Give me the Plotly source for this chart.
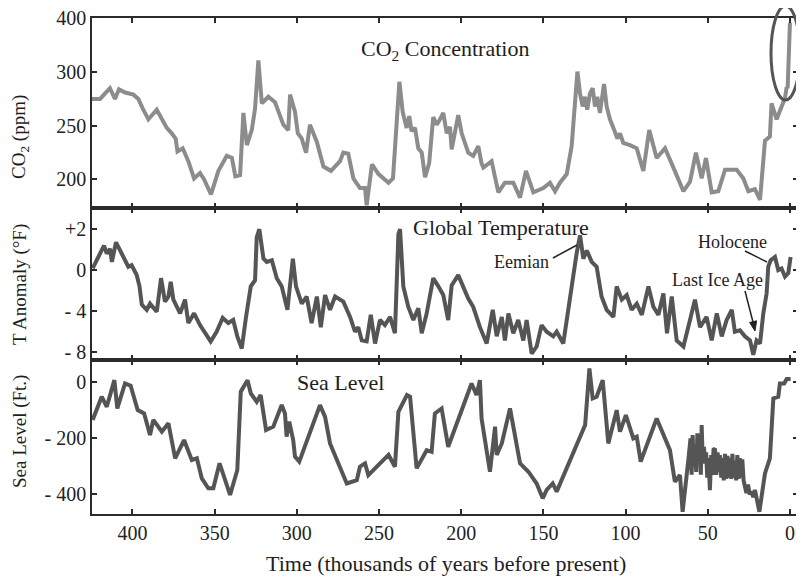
import plotly.graph_objects as go
from plotly.subplots import make_subplots

# ---------------- data (thousands of years before present) ----------------
co2_age = [424.6, 419.7, 413.7, 410.6, 408.2, 404.5, 399.4, 396.4, 393.7, 390.3, 385.2, 379.1,
           376.1, 373.7, 372.6, 369.4, 366.0, 362.5, 358.9, 356.4, 352.2, 347.7, 342.6, 339.5,
           337.4, 334.5, 332.5, 330.4, 327.4, 325.4, 323.4, 321.3, 317.3, 313.3, 308.2, 305.2,
           304.1, 301.1, 299.4, 297.0, 294.4, 292.0, 287.8, 283.8, 279.2, 273.7, 271.7, 268.7,
           265.6, 261.6, 258.5, 257.5, 254.3, 250.3, 244.2, 241.5, 237.6, 235.6, 233.2, 231.6,
           230.2, 228.1, 226.1, 224.0, 222.0, 219.5, 217.0, 214.9, 212.9, 210.9, 208.8, 206.8,
           205.8, 203.8, 201.8, 199.7, 195.7, 192.7, 189.6, 187.6, 186.5, 181.5, 177.4, 173.4,
           168.3, 164.2, 160.6, 156.1, 150.0, 146.0, 142.9, 139.9, 135.8, 132.8, 129.3, 127.7,
           126.1, 124.7, 123.3, 121.7, 120.0, 118.6, 117.2, 115.6, 113.1, 111.5, 109.5, 107.4,
           105.0, 103.4, 101.4, 97.3, 93.2, 89.2, 85.6, 81.1, 76.0, 70.9, 64.8, 60.8, 57.2, 53.7,
           51.1, 47.6, 43.6, 39.5, 32.4, 28.4, 25.3, 21.3, 18.2, 15.2, 12.2, 11.2, 8.1, 3.0, 2.0,
           1.4, 0.0]
co2_ppm = [275, 275, 285, 275, 284, 281, 279, 275, 266, 256, 265, 248,
           243, 238, 226, 229, 217, 201, 206, 200, 186, 208, 222, 220,
           203, 204, 262, 232, 246, 266, 322, 271, 277, 272, 251, 246,
           279, 263, 243, 238, 225, 251, 235, 212, 208, 217, 225, 224,
           201, 192, 192, 176, 214, 205, 197, 201, 291, 263, 248, 259,
           245, 248, 229, 225, 202, 215, 258, 251, 256, 262, 243, 249,
           228, 243, 260, 243, 225, 222, 231, 215, 211, 217, 188, 197,
           197, 183, 208, 188, 192, 197, 189, 197, 205, 231, 301, 280,
           268, 277, 265, 280, 285, 268, 277, 262, 289, 268, 256, 248,
           238, 243, 234, 232, 229, 208, 246, 220, 229, 211, 189, 198, 225, 201,
           220, 188, 189, 209, 209, 201, 189, 191, 181, 236, 240, 271, 256, 276, 286,
           285, 392]

temp_age = [424.2, 420.6, 417.3, 415.6, 413.6, 412.5, 410.0, 407.5, 404.5, 402.5, 400.5, 397.4,
            395.7, 394.3, 391.3, 389.3, 385.2, 382.6, 380.2, 378.1, 376.7, 375.1, 371.0, 368.0,
            366.0, 362.5, 358.9, 354.8, 352.4, 348.8, 345.1, 341.7, 338.7, 336.2, 333.5, 330.9,
            328.0, 325.4, 324.4, 322.8, 320.3, 318.3, 315.2, 312.2, 309.2, 305.7, 303.7, 302.4,
            300.5, 297.0, 294.0, 291.0, 287.8, 285.4, 282.8, 279.8, 276.7, 271.7, 267.6, 264.6,
            262.6, 260.5, 257.5, 255.0, 252.4, 249.4, 246.4, 243.3, 240.3, 238.2, 237.2, 235.2,
            232.2, 229.1, 226.1, 224.0, 221.0, 217.0, 213.9, 210.9, 207.9, 205.8, 201.8, 198.8,
            195.7, 192.7, 188.6, 184.5, 180.8, 178.4, 175.3, 173.4, 171.3, 168.3, 165.3, 162.2,
            160.2, 157.1, 154.1, 151.1, 148.0, 144.0, 141.9, 137.9, 134.9, 131.8, 129.8, 127.7,
            125.7, 123.6, 120.6, 117.6, 114.6, 111.5, 107.4, 105.4, 102.3, 99.3, 96.3, 93.2, 90.1,
            86.1, 83.1, 80.0, 77.0, 74.8, 71.9, 68.9, 64.8, 60.8, 57.8, 54.7, 50.7, 47.6, 44.5,
            41.5, 38.5, 35.4, 33.5, 30.4, 27.4, 24.3, 22.3, 20.3, 18.2, 16.2, 14.2, 13.2, 11.7,
            9.1, 7.1, 5.1, 3.0, 1.0, -0.4]
temp_f = [0.08, 0.64, 1.2, 0.8, 1.04, 0.4, 1.36, 0.96, 0.48, 0.16, 0.24, -0.49,
          -1.6, -3.4, -3.9, -3.3, -4.1, -0.8, -3.1, -2.6, -1.15, -2.9, -4.25, -2.9,
          -5.2, -4.25, -5.4, -6.4, -7.0, -6.05, -4.7, -5.2, -4.9, -6.5, -7.7, -4.6,
          -1.6, -1.0, 1.6, 2.0, 0.56, 0.4, 0.48, -0.8, -1.6, -3.9, -1.15, 0.56,
          -1.6, -3.3, -2.6, -5.2, -2.6, -5.6, -2.45, -3.9, -2.6, -3.1, -4.6, -6.05,
          -5.6, -6.9, -7.0, -4.4, -7.2, -4.9, -5.4, -4.6, -6.2, 1.76, 2.0, -1.6,
          -3.6, -4.9, -3.75, -6.2, -4.25, -0.8, -1.6, -2.45, -4.9, -1.5, -0.5, -1.6,
          -2.8, -3.6, -5.6, -7.2, -3.9, -6.5, -4.6, -6.9, -4.25, -6.2, -4.9, -6.9,
          -4.9, -8.2, -7.5, -5.4, -6.05, -6.5, -6.05, -7.2, -3.9, -0.3, 0.8, 1.7,
          0.56, 0.96, 0.4, 0.16, -2.6, -3.9, -4.6, -1.6, -2.9, -2.45, -3.9, -3.3, -4.4,
          -1.6, -3.6, -4.4, -2.3, -6.2, -2.6, -6.9, -7.5, -4.9, -2.9, -5.6, -4.6, -6.9, -4.25,
          -6.5, -4.9, -3.9, -6.05, -5.9, -6.5, -6.9, -8.3, -6.9, -7.2, -4.25, -2.3, 0.16, 0.48,
          0.64, 0.0, 0.08, -0.65, -0.3, 0.64]

sea_age = [424.2, 418.7, 415.6, 411.0, 409.2, 404.5, 401.1, 396.8, 392.9, 389.3, 387.3, 382.1,
           378.1, 374.0, 368.6, 363.9, 360.8, 357.8, 353.8, 350.8, 347.0, 340.6, 336.2, 334.1,
           330.0, 328.0, 324.4, 322.0, 318.7, 314.3, 309.2, 307.2, 306.2, 304.6, 302.2, 301.1,
           298.5, 285.9, 282.8, 279.8, 269.6, 263.5, 261.6, 258.5, 256.5, 244.2, 240.3, 238.2,
           233.0, 231.1, 227.1, 221.0, 218.0, 216.0, 211.9, 207.9, 193.7, 190.7, 188.6, 187.6,
           182.5, 179.4, 178.4, 175.3, 170.3, 164.2, 159.1, 154.1, 150.4, 148.0, 144.3, 141.9,
           124.6, 122.0, 120.0, 117.6, 113.9, 110.5, 105.4, 103.4, 99.8, 95.3, 93.2, 90.8, 81.1,
           73.0, 70.0, 66.9, 65.3, 62.9, 61.5, 60.5, 59.8, 59.2, 58.5, 57.8, 57.0, 56.3, 55.5,
           54.8, 54.2, 53.7, 53.0, 52.3, 51.7, 51.0, 50.3, 49.5, 48.7, 47.9, 47.2, 46.5, 45.6,
           44.8, 44.0, 43.3, 42.6, 41.8, 41.0, 40.3, 39.5, 38.7, 38.0, 37.2, 36.5, 35.7, 35.0,
           34.2, 33.5, 32.7, 32.0, 31.2, 30.5, 29.8, 29.0, 28.2, 27.4, 26.5, 25.5, 24.5, 23.3,
           22.3, 21.3, 20.0, 18.6, 15.2, 12.2, 10.1, 7.1, 6.1, 3.5, 2.0, -0.4]
sea_ft = [-134, -51, -87, 8, -93, -4, -12, -99, -111, -188, -134, -176,
          -146, -271, -206, -277, -271, -343, -378, -378, -289, -402, -313, -33,
          8, -39, -69, -45, -170, -158, -81, -111, -194, -140, -206, -265,
          -283, -81, -123, -218, -361, -349, -301, -289, -331, -259, -301, -105,
          -45, -51, -307, -242, -248, -111, -93, -230, -4, -45, 8, -129,
          -319, -158, -259, -218, -93, -289, -319, -361, -414, -384, -361, -390,
          -152, 50, -57, -51, 8, -218, -99, -176, -117, -200, -194, -283, -129,
          -242, -355, -331, -462, -349, -260, -200, -330, -188, -300, -224, -320, -182, -290,
          -200, -330, -152, -290, -230, -283, -250, -340, -270, -385, -260, -330, -240, -236,
          -330, -250, -320, -260, -340, -270, -350, -255, -345, -262, -340, -270, -345, -255,
          -340, -280, -350, -260, -345, -270, -340, -275, -350, -372, -395, -365, -400, -390,
          -410, -384, -420, -462, -325, -271, -57, -51, -4, -4, 12, 12]

x_ticks = [400, 350, 300, 250, 200, 150, 100, 50, 0]
co2_ticks = [200, 250, 300, 400]
co2_tick_text = ["200", "250", "300", "400"]
temp_ticks = [2, 0, -4, -8]
temp_tick_text = ["+2", "0", "- 4", "- 8"]
sea_ticks = [0, -200, -400]
sea_tick_text = ["0", "- 200", "- 400"]


# broken-axis mappings used by the original figure
def co2_disp(v):
    return v if v <= 300 else 300 + (v - 300) / 2.0


def temp_disp(v):
    return v * 2.0 if v > 0 else v


FONT = "Liberation Serif"
AX = "#2b2b2b"
OFF = 8  # page body margin
W, H = 796, 572
ML, MR, MT, MB = 84, 6, 10, 66
PW, PH = W - ML - MR, H - MT - MB


def px2x(px):
    return (px - OFF - ML) / PW


def py2y(py):
    return 1 - (py - OFF - MT) / PH


fig = make_subplots(rows=3, cols=1, shared_xaxes=True, vertical_spacing=0,
                    row_heights=[190, 152, 154])

fig.add_trace(go.Scatter(x=co2_age, y=[co2_disp(v) for v in co2_ppm], mode="lines",
                         line=dict(color="#8c8c8c", width=4), name="CO2"), row=1, col=1)
fig.add_trace(go.Scatter(x=temp_age, y=[temp_disp(v) for v in temp_f], mode="lines",
                         line=dict(color="#555555", width=4), name="Temp"), row=2, col=1)
fig.add_trace(go.Scatter(x=sea_age, y=sea_ft, mode="lines",
                         line=dict(color="#555555", width=4), name="Sea"), row=3, col=1)

common = dict(showline=True, linewidth=1.5, linecolor=AX, mirror="ticks", ticks="inside",
              ticklen=5, tickwidth=1.5, tickcolor=AX, showgrid=False, zeroline=False,
              ticklabeloverflow="allow", automargin=False,
              tickfont=dict(family=FONT, size=20, color="#222"))

for r in (1, 2, 3):
    fig.update_xaxes(range=[424.6, -4.9], tickvals=x_ticks, showticklabels=(r == 3),
                     row=r, col=1, **common)

fig.update_yaxes(range=[173.4, 350.4], tickvals=[co2_disp(v) for v in co2_ticks],
                 ticktext=co2_tick_text, row=1, col=1, **common)
fig.update_yaxes(range=[-8.82, 6.08], tickvals=[temp_disp(v) for v in temp_ticks],
                 ticktext=temp_tick_text, row=2, col=1, **common)
fig.update_yaxes(range=[-470, 80], tickvals=sea_ticks, ticktext=sea_tick_text,
                 row=3, col=1, **common)


def label(text, px, py, size, angle=0):
    fig.add_annotation(text=text, x=px2x(px), y=py2y(py), xref="paper", yref="paper",
                       showarrow=False, textangle=angle, xanchor="center", yanchor="middle",
                       font=dict(family=FONT, size=size, color="#1e1e1e"))


label("CO<sub>2</sub> Concentration", 445, 50, 22)
label("Global Temperature", 501, 228, 22)
label("Eemian", 521, 262, 18)
label("Holocene", 732, 242, 18)
label("Last Ice Age", 717, 280, 18)
label("Sea Level", 340, 382, 22)
label("CO<sub>2</sub> (ppm)", 20, 137, 19, -90)
label("T Anomaly (°F)", 20, 285, 19, -90)
label("Sea Level (Ft.)", 20, 432, 19, -90)
label("Time (thousands of years before present)", 446, 563, 22)


def seg(x0, y0, x1, y1):
    fig.add_shape(type="line", xref="paper", yref="paper", x0=px2x(x0), y0=py2y(y0),
                  x1=px2x(x1), y1=py2y(y1), line=dict(color="#222", width=1.5))


seg(553, 258, 577, 245)      # Eemian pointer
seg(745, 251, 767, 262)      # Holocene pointer
seg(745, 291, 754, 326)      # Last Ice Age arrow shaft
tri = [(755, 331), (749.6, 322.5), (756.6, 320.8)]
path = "M " + " L ".join(f"{px2x(a):.5f},{py2y(b):.5f}" for a, b in tri) + " Z"
fig.add_shape(type="path", xref="paper", yref="paper", path=path,
              fillcolor="#222", line=dict(color="#222", width=1))

fig.add_shape(type="circle", xref="paper", yref="paper", x0=px2x(771), x1=px2x(800),
              y0=py2y(100), y1=py2y(6), line=dict(color="#555", width=3))

fig.update_layout(width=W, height=H, margin=dict(l=ML, r=MR, t=MT, b=MB),
                  paper_bgcolor="white", plot_bgcolor="white", showlegend=False)

fig.write_html("out.html")
